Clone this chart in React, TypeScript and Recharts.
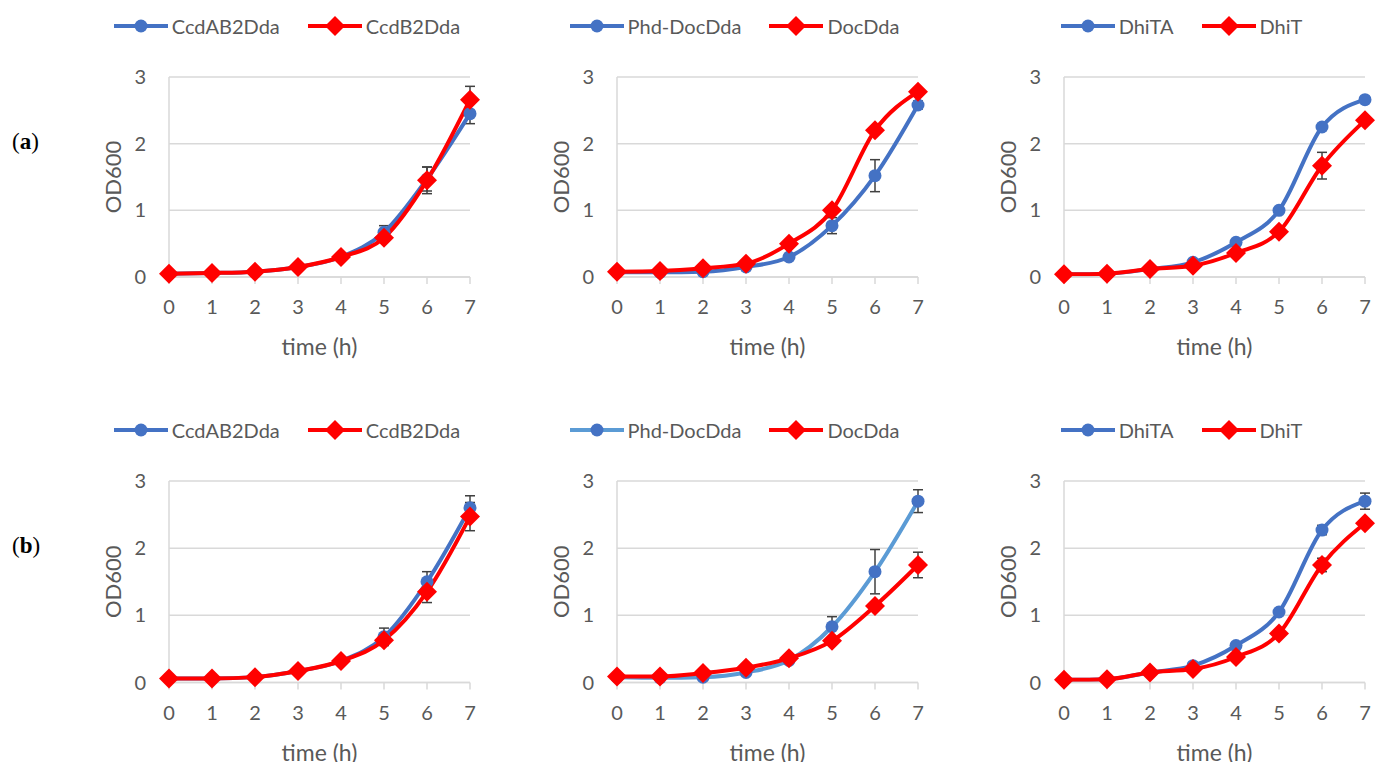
import { LineChart, Line, XAxis, YAxis, CartesianGrid, Legend, ErrorBar, Label } from 'recharts'

// time points (h)
const hours = [0, 1, 2, 3, 4, 5, 6, 7]
const yTicks = [0, 1, 2, 3]

// (a) row
const aCcdAB2Dda = [0.05, 0.06, 0.08, 0.15, 0.3, 0.67, 1.47, 2.45]
const aCcdAB2DdaErr = [0.01, 0.01, 0.01, 0.02, 0.03, 0.1, 0.18, 0.15]
const aCcdB2Dda = [0.05, 0.06, 0.08, 0.15, 0.3, 0.59, 1.45, 2.66]
const aCcdB2DdaErr = [0.01, 0.01, 0.01, 0.02, 0.03, 0.05, 0.2, 0.2]

const aPhdDocDda = [0.07, 0.07, 0.08, 0.15, 0.3, 0.77, 1.52, 2.58]
const aPhdDocDdaErr = [0.01, 0.01, 0.01, 0.02, 0.03, 0.12, 0.24, 0.06]
const aDocDda = [0.08, 0.09, 0.13, 0.2, 0.5, 1.0, 2.2, 2.78]
const aDocDdaErr = [0.01, 0.01, 0.01, 0.02, 0.03, 0.04, 0.05, 0.05]

const aDhiTA = [0.04, 0.05, 0.12, 0.22, 0.52, 1.0, 2.25, 2.66]
const aDhiTAErr = [0.01, 0.01, 0.01, 0.02, 0.03, 0.04, 0.05, 0.04]
const aDhiT = [0.04, 0.05, 0.12, 0.17, 0.36, 0.68, 1.67, 2.35]
const aDhiTErr = [0.01, 0.01, 0.01, 0.02, 0.03, 0.04, 0.2, 0.04]

// (b) row
const bCcdAB2Dda = [0.06, 0.06, 0.08, 0.17, 0.32, 0.68, 1.5, 2.6]
const bCcdAB2DdaErr = [0.01, 0.01, 0.01, 0.02, 0.03, 0.13, 0.15, 0.18]
const bCcdB2Dda = [0.06, 0.06, 0.08, 0.17, 0.32, 0.63, 1.35, 2.47]
const bCcdB2DdaErr = [0.01, 0.01, 0.01, 0.02, 0.03, 0.05, 0.16, 0.21]

const bPhdDocDda = [0.08, 0.07, 0.08, 0.15, 0.33, 0.83, 1.65, 2.7]
const bPhdDocDdaErr = [0.01, 0.01, 0.01, 0.02, 0.03, 0.15, 0.33, 0.17]
const bDocDda = [0.09, 0.09, 0.14, 0.22, 0.36, 0.62, 1.14, 1.75]
const bDocDdaErr = [0.01, 0.01, 0.01, 0.02, 0.03, 0.04, 0.06, 0.19]

const bDhiTA = [0.04, 0.05, 0.15, 0.25, 0.55, 1.05, 2.27, 2.7]
const bDhiTAErr = [0.01, 0.01, 0.01, 0.02, 0.03, 0.04, 0.07, 0.12]
const bDhiT = [0.04, 0.05, 0.15, 0.2, 0.38, 0.73, 1.75, 2.37]
const bDhiTErr = [0.01, 0.01, 0.01, 0.02, 0.03, 0.04, 0.1, 0.05]

const BLUE = '#4472C4'
const LIGHT_BLUE = '#5B9BD5'
const RED = '#FF0000'
const GRID = '#D9D9D9'
const TEXT = '#595959'
const FONT = 'Lato, "Open Sans", sans-serif'

type Panel = {
  blueName: string
  redName: string
  blue: number[]
  blueErr: number[]
  red: number[]
  redErr: number[]
  blueLine?: string
}

const rowA: Panel[] = [
  { blueName: 'CcdAB2Dda', redName: 'CcdB2Dda', blue: aCcdAB2Dda, blueErr: aCcdAB2DdaErr, red: aCcdB2Dda, redErr: aCcdB2DdaErr },
  { blueName: 'Phd-DocDda', redName: 'DocDda', blue: aPhdDocDda, blueErr: aPhdDocDdaErr, red: aDocDda, redErr: aDocDdaErr },
  { blueName: 'DhiTA', redName: 'DhiT', blue: aDhiTA, blueErr: aDhiTAErr, red: aDhiT, redErr: aDhiTErr },
]
const rowB: Panel[] = [
  { blueName: 'CcdAB2Dda', redName: 'CcdB2Dda', blue: bCcdAB2Dda, blueErr: bCcdAB2DdaErr, red: bCcdB2Dda, redErr: bCcdB2DdaErr },
  { blueName: 'Phd-DocDda', redName: 'DocDda', blue: bPhdDocDda, blueErr: bPhdDocDdaErr, red: bDocDda, redErr: bDocDdaErr, blueLine: LIGHT_BLUE },
  { blueName: 'DhiTA', redName: 'DhiT', blue: bDhiTA, blueErr: bDhiTAErr, red: bDhiT, redErr: bDhiTErr },
]

const CHART_W = 406
const CHART_H = 370
const chartLefts = [84, 531.5, 978.5]

const Diamond = (props: any) => {
  const { cx, cy, index } = props
  if (cx == null || cy == null) return <g key={`e-${index}`} />
  const s = 10
  return (
    <polygon
      key={`d-${index}`}
      points={`${cx},${cy - s} ${cx + s},${cy} ${cx},${cy + s} ${cx - s},${cy}`}
      fill={RED}
    />
  )
}

function LegendIcon({ kind, color, line }: { kind: 'circle' | 'diamond'; color: string; line: string }) {
  return (
    <svg width={54} height={22} style={{ display: 'block' }}>
      <line x1={0} y1={11} x2={54} y2={11} stroke={line} strokeWidth={4} />
      {kind === 'circle' ? (
        <circle cx={27} cy={11} r={6.5} fill={color} />
      ) : (
        <polygon points="27,1 37,11 27,21 17,11" fill={color} />
      )}
    </svg>
  )
}

function PanelChart({ panel, left, top, bottomMargin }: { panel: Panel; left: number; top: number; bottomMargin: number }) {
  const data = hours.map((h, i) => ({
    hour: h,
    blue: panel.blue[i],
    blueErr: panel.blueErr[i],
    red: panel.red[i],
    redErr: panel.redErr[i],
  }))
  const blueLine = panel.blueLine || BLUE

  return (
    <div style={{ position: 'absolute', left, top }}>
      <LineChart
        width={CHART_W}
        height={CHART_H}
        data={data}
        margin={{ top: 77, right: 20, left: 0, bottom: bottomMargin }}
      >
        <CartesianGrid vertical={false} stroke={GRID} strokeWidth={1.5} />
        <XAxis
          dataKey="hour"
          type="number"
          domain={[0, 7]}
          ticks={hours}
          height={70}
          stroke={GRID}
          strokeWidth={1.5}
          tickSize={7}
          tickMargin={16}
          tick={{ fill: TEXT, fontSize: 20, fontFamily: FONT }}
        >
          <Label
            content={(p: any) => {
              const vb = p.viewBox
              return (
                <text
                  x={vb.x + vb.width / 2}
                  y={vb.y + 69}
                  textAnchor="middle"
                  dominantBaseline="central"
                  fill={TEXT}
                  fontSize={23}
                  fontFamily={FONT}
                >
                  time (h)
                </text>
              )
            }}
          />
        </XAxis>
        <YAxis
          domain={[0, 3]}
          ticks={yTicks}
          width={85}
          stroke={GRID}
          strokeWidth={1.5}
          tickLine={false}
          tickSize={0}
          tickMargin={23}
          tick={{ fill: TEXT, fontSize: 20, fontFamily: FONT }}
        >
          <Label
            content={(p: any) => {
              const vb = p.viewBox
              const cx = vb.x + vb.width - 57
              const cy = vb.y + vb.height / 2
              return (
                <text
                  x={cx}
                  y={cy}
                  transform={`rotate(-90, ${cx}, ${cy})`}
                  textAnchor="middle"
                  dominantBaseline="central"
                  fill={TEXT}
                  fontSize={22}
                  fontFamily={FONT}
                >
                  OD600
                </text>
              )
            }}
          />
        </YAxis>
        <Legend
          verticalAlign="middle"
          align="center"
          wrapperStyle={{ top: 14, left: 0, width: CHART_W }}
          content={() => (
            <div style={{ display: 'flex', justifyContent: 'center', alignItems: 'center', fontFamily: FONT, fontSize: 20, color: TEXT }}>
              <LegendIcon kind="circle" color={BLUE} line={blueLine} />
              <span style={{ marginLeft: 4, marginRight: 28 }}>{panel.blueName}</span>
              <LegendIcon kind="diamond" color={RED} line={RED} />
              <span style={{ marginLeft: 4 }}>{panel.redName}</span>
            </div>
          )}
        />
        <Line
          type="monotone"
          dataKey="blue"
          name={panel.blueName}
          stroke={blueLine}
          strokeWidth={4}
          dot={{ r: 6.5, fill: BLUE, stroke: 'none' }}
          activeDot={false}
          isAnimationActive={false}
        >
          <ErrorBar dataKey="blueErr" direction="y" width={5} stroke="#404040" strokeWidth={1.5} />
        </Line>
        <Line
          type="monotone"
          dataKey="red"
          name={panel.redName}
          stroke={RED}
          strokeWidth={4}
          dot={Diamond}
          activeDot={false}
          isAnimationActive={false}
        >
          <ErrorBar dataKey="redErr" direction="y" width={5} stroke="#404040" strokeWidth={1.5} />
        </Line>
      </LineChart>
    </div>
  )
}

export default function App() {
  return (
    <div
      style={{
        position: 'absolute',
        left: 0,
        top: 0,
        width: 1381,
        height: 762,
        overflow: 'hidden',
        background: '#fff',
      }}
    >
      <div style={{ position: 'absolute', left: 12, top: 129, fontFamily: '"Liberation Serif", serif', fontSize: 23, color: '#000' }}>
        (<b>a</b>)
      </div>
      <div style={{ position: 'absolute', left: 12, top: 533, fontFamily: '"Liberation Serif", serif', fontSize: 23, color: '#000' }}>
        (<b>b</b>)
      </div>
      {rowA.map((p, i) => (
        <PanelChart key={`a${i}`} panel={p} left={chartLefts[i]} top={0} bottomMargin={23} />
      ))}
      {rowB.map((p, i) => (
        <PanelChart key={`b${i}`} panel={p} left={chartLefts[i]} top={404} bottomMargin={21.5} />
      ))}
    </div>
  )
}
